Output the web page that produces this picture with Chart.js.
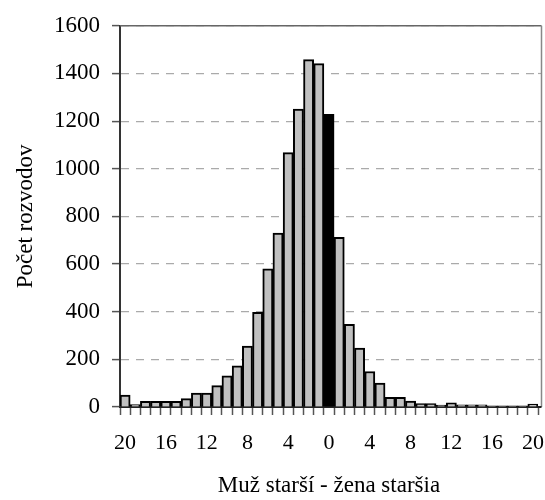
<!DOCTYPE html>
<html>
<head>
<meta charset="utf-8">
<script src="https://cdn.jsdelivr.net/npm/chart.js@4.4.0/dist/chart.umd.min.js"></script>
<style>
  html, body { margin: 0; padding: 0; background: #fff; }
  #wrap { width: 545px; height: 500px; }
</style>
</head>
<body>
<div id="wrap"><canvas id="chart"></canvas></div>
<script>
// rozdiel veku: -20 .. 20 (muz starsi vlavo, zena starsia vpravo)
const vekRozdiel = [];
for (let i = -20; i <= 20; i++) vekRozdiel.push(i);

const pocetRozvodov = [
    50, 10, 24, 24, 24, 24, 35, 58, 58, 90,
    131, 173, 256, 397, 580, 730, 1068, 1250, 1458, 1441,
    1228,
    712, 347, 247, 149, 100, 41, 41, 25, 14, 14,
    8, 18, 9, 9, 9, 5, 5, 5, 5, 12
];

const yTicks = [0, 200, 400, 600, 800, 1000, 1200, 1400, 1600];

const serif = "'Liberation Serif', 'Times New Roman', serif";

// ramik plochy grafu (horna a prava ciara), prava ciara kusok za poslednym stlpcom
const frame = {
    id: 'frame',
    beforeDatasetsDraw(chart) {
        const a = chart.chartArea;
        const ctx = chart.ctx;
        const r = a.right + 3.5;
        ctx.save();
        ctx.lineWidth = 1.2;
        ctx.strokeStyle = '#aaa';
        ctx.setLineDash([8, 7]);
        chart.scales.y.ticks.forEach(t => {
            if (t.value === 0 || t.value === 1600) return;
            const y = Math.round(chart.scales.y.getPixelForValue(t.value)) + 0.5;
            ctx.beginPath();
            ctx.moveTo(a.right, y);
            ctx.lineTo(r, y);
            ctx.stroke();
        });
        ctx.setLineDash([]);
        ctx.lineWidth = 1.5;
        ctx.strokeStyle = '#666';
        ctx.beginPath();
        ctx.moveTo(a.left, a.top);
        ctx.lineTo(r, a.top);
        ctx.stroke();
        ctx.strokeStyle = '#888';
        ctx.beginPath();
        ctx.moveTo(r, a.top);
        ctx.lineTo(r, a.bottom);
        ctx.stroke();
        ctx.strokeStyle = '#222';
        ctx.lineWidth = 2;
        ctx.beginPath();
        ctx.moveTo(a.right, a.bottom);
        ctx.lineTo(r, a.bottom);
        ctx.stroke();
        ctx.restore();
    }
};

const ctx = document.getElementById('chart').getContext('2d');
new Chart(ctx, {
    type: 'bar',
    data: {
        labels: vekRozdiel,
        datasets: [{
            data: pocetRozvodov,
            backgroundColor: vekRozdiel.map(v => v === 0 ? '#000' : '#c0c0c0'),
            borderColor: '#000',
            borderWidth: 2,
            categoryPercentage: 1,
            barPercentage: 1
        }]
    },
    options: {
        responsive: true,
        maintainAspectRatio: false,
        animation: false,
        layout: { padding: { top: 21, right: 7, left: 0, bottom: 0 } },
        plugins: {
            legend: { display: false },
            tooltip: { enabled: false }
        },
        scales: {
            x: {
                offset: true,
                grid: {
                    offset: true,
                    drawOnChartArea: false,
                    drawTicks: true,
                    tickLength: 8,
                    tickColor: '#555',
                    tickWidth: 1.5
                },
                border: { color: '#222', width: 2 },
                ticks: {
                    autoSkip: false,
                    maxRotation: 0,
                    padding: 15,
                    color: '#000',
                    font: { family: serif, size: 22 },
                    callback: function (val, i) {
                        const v = vekRozdiel[i];
                        return v % 4 === 0 ? String(Math.abs(v)) : '';
                    }
                },
                title: {
                    display: true,
                    text: 'Muž starší - žena staršia',
                    color: '#000',
                    font: { family: serif, size: 23 },
                    padding: { top: 10, bottom: 0 }
                },
                afterFit: s => {
                    s.height = 93;
                    s.paddingLeft = 0;
                    s.paddingRight = 0;
                }
            },
            y: {
                min: 0,
                max: 1600,
                afterBuildTicks: s => { s.ticks = yTicks.map(v => ({ value: v })); },
                grid: {
                    color: '#aaa',
                    lineWidth: 1.2,
                    drawTicks: true,
                    tickLength: 8,
                    tickColor: '#555',
                    tickWidth: 1.5
                },
                border: { color: '#333', width: 2, dash: [8, 7] },
                ticks: {
                    padding: 12,
                    color: '#000',
                    font: { family: serif, size: 23 },
                    callback: v => String(v)
                },
                title: {
                    display: true,
                    text: 'Počet rozvodov',
                    color: '#000',
                    font: { family: serif, size: 23 },
                    padding: { top: 12, bottom: 0 }
                },
                afterFit: s => { s.width = 120; }
            }
        }
    },
    plugins: [frame]
});
</script>
</body>
</html>
